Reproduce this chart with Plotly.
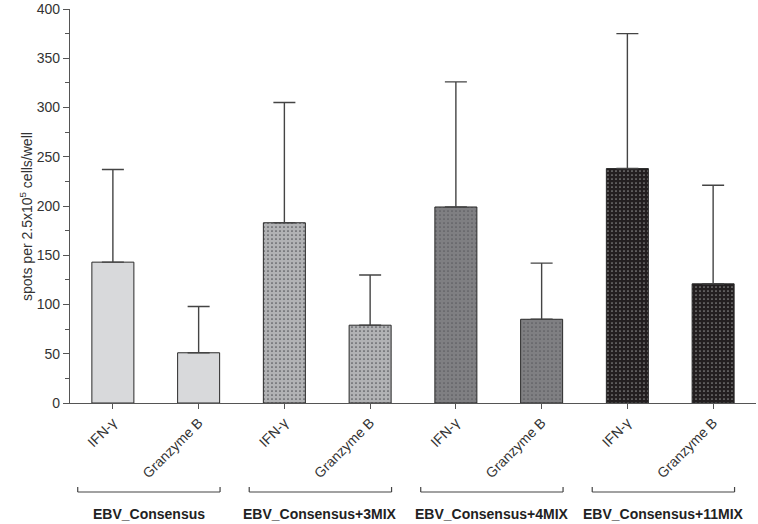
import plotly.graph_objects as go

groups = ["EBV_Consensus", "EBV_Consensus+3MIX", "EBV_Consensus+4MIX", "EBV_Consensus+11MIX"]
markers = ["IFN-γ", "Granzyme B"]
means = [143, 51, 183, 79, 199, 85, 238, 121]
upper = [237, 98, 305, 130, 326, 142, 375, 221]
y_ticks = [0, 50, 100, 150, 200, 250, 300, 350, 400]

fills = ["#d8d9db", "#b1b2b4", "#7f7f82", "#231f20"]
dots = ["", ".", ".", "."]
dot_cols = ["#d8d9db", "#55565a", "#5c5c60", "#8a8a8a"]

FONT = "Arial, Liberation Sans, sans-serif"
fig = go.Figure()
for g in range(4):
    xs = [2 * g, 2 * g + 1]
    ys = means[2 * g:2 * g + 2]
    errs = [upper[i] - means[i] for i in range(2 * g, 2 * g + 2)]
    fig.add_trace(go.Bar(
        x=xs, y=ys, width=0.49,
        marker=dict(color=fills[g], line=dict(color="#2a2a2a", width=1),
                    pattern=dict(shape=dots[g], fgcolor=dot_cols[g], bgcolor=fills[g],
                                 size=4, solidity=0.15, fillmode="replace")),
        error_y=dict(type="data", symmetric=False, array=errs, arrayminus=[0, 0],
                     color="#444444", thickness=1.4, width=11),
        showlegend=False, hoverinfo="skip",
    ))

all_x = list(range(8))
fig.update_layout(
    width=758, height=524,
    margin=dict(l=70, r=2, t=9, b=121),
    plot_bgcolor="white", paper_bgcolor="white",
    barmode="overlay",
    font=dict(family=FONT, size=13, color="#333333"),
    xaxis=dict(range=[-0.5, 7.5], tickvals=all_x, ticktext=markers * 4,
               tickangle=-45, ticks="outside", ticklen=5, tickcolor="#555555",
               showline=True, linecolor="#555555", linewidth=1.3, showgrid=False,
               zeroline=False, tickfont=dict(size=14, color="#333333")),
    yaxis=dict(range=[0, 400], tickvals=y_ticks, ticks="outside", ticklen=6,
               tickcolor="#555555", showline=True, linecolor="#555555", linewidth=1.3,
               showgrid=False, zeroline=False,
               minor=dict(dtick=25, ticks="outside", ticklen=4, tickcolor="#555555"),
               tickfont=dict(size=14, color="#333333")),
)

# y title
fig.add_annotation(text="spots per 2.5x10<sup>5</sup> cells/well", textangle=-90,
                   xref="paper", yref="paper", x=(15 - 70) / 686, y=(403 - 217) / 394,
                   showarrow=False, font=dict(size=14, color="#333333"))

# group brackets and labels
H = 394.0
yb = (403 - 492) / H
yt = (403 - 487) / H
for g in range(4):
    x0 = 2 * g - 0.41
    x1 = 2 * g + 1.25
    lc = dict(color="#444444", width=1.2)
    fig.add_shape(type="line", xref="x", yref="paper", x0=x0, x1=x1, y0=yb, y1=yb, line=lc)
    fig.add_shape(type="line", xref="x", yref="paper", x0=x0, x1=x0, y0=yb, y1=yt, line=lc)
    fig.add_shape(type="line", xref="x", yref="paper", x0=x1, x1=x1, y0=yb, y1=yt, line=lc)
    fig.add_annotation(text="<b>" + groups[g] + "</b>", xref="x", yref="paper",
                       x=(x0 + x1) / 2, y=(403 - 514) / H, yanchor="middle",
                       showarrow=False, font=dict(size=14, color="#222222"))

fig.write_html("out.html", config={"displayModeBar": False},
               post_script="document.body.style.margin='0';")
